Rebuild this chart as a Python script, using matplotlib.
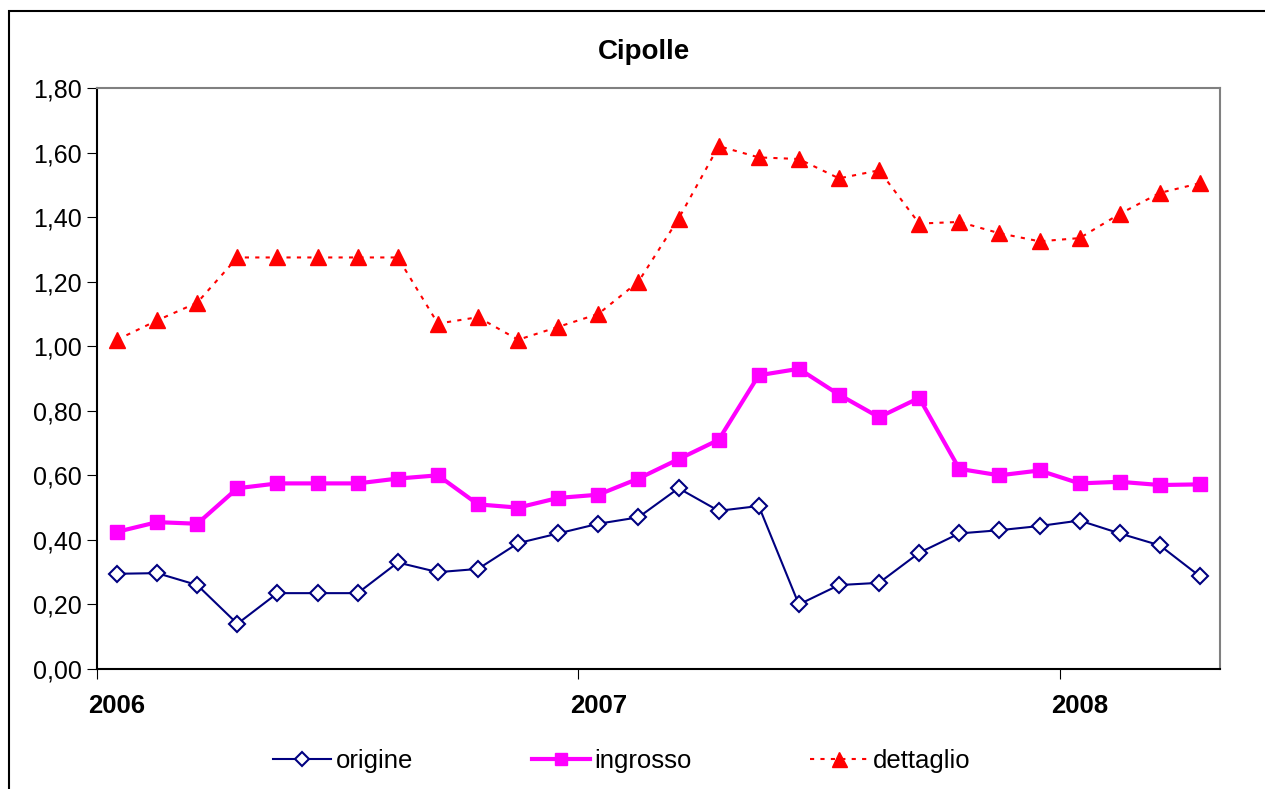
import numpy as np
import matplotlib.pyplot as plt
from matplotlib.patches import Rectangle
from matplotlib.ticker import FuncFormatter

plt.rcParams['font.family'] = ['Liberation Sans', 'DejaVu Sans']

# monthly prices, Jan 2006 - Apr 2008
years = ['2006', '2007', '2008']
origine = [0.295, 0.297, 0.26, 0.14, 0.235, 0.235, 0.235, 0.33, 0.30, 0.31,
           0.39, 0.42, 0.45, 0.47, 0.56, 0.49, 0.505, 0.20, 0.26, 0.267,
           0.36, 0.42, 0.43, 0.443, 0.46, 0.42, 0.383, 0.287]
ingrosso = [0.425, 0.455, 0.45, 0.56, 0.575, 0.575, 0.575, 0.59, 0.60, 0.51,
            0.50, 0.53, 0.54, 0.59, 0.65, 0.71, 0.91, 0.93, 0.85, 0.78,
            0.84, 0.62, 0.60, 0.615, 0.575, 0.58, 0.57, 0.572]
dettaglio = [1.02, 1.08, 1.135, 1.275, 1.275, 1.275, 1.275, 1.275, 1.07, 1.09,
             1.02, 1.06, 1.10, 1.20, 1.395, 1.62, 1.585, 1.58, 1.52, 1.545,
             1.38, 1.385, 1.35, 1.325, 1.335, 1.41, 1.475, 1.505]

x = np.arange(len(origine))

fig = plt.figure(figsize=(12.65, 7.89), dpi=100)
ax = fig.add_axes([97/1265, 1 - 669/789, (1220 - 97)/1265, (669 - 88)/789])

# outer chart border (cut at right/bottom like the original)
fig.patches.append(Rectangle((9/1265, -0.1), 1.2, 1.1 - 11/789, transform=fig.transFigure,
                             fill=False, edgecolor='black', linewidth=1.5))

ax.plot(x, origine, color='#000080', lw=1.5, marker='D', ms=8, mfc='white',
        mec='#000080', mew=1.5, label='origine')
ax.plot(x, ingrosso, color='#FF00FF', lw=3, marker='s', ms=10, mfc='#FF00FF',
        mec='#FF00FF', label='ingrosso')
ax.plot(x, dettaglio, color='#FF0000', lw=1.5, ls=(0, (2, 3)), marker='^', ms=12,
        mfc='#FF0000', mec='#FF0000', label='dettaglio')

ax.set_xlim(-0.5, len(x) - 0.5)
ax.set_ylim(0, 1.8)
ax.set_yticks(np.arange(0, 1.81, 0.2))
ax.yaxis.set_major_formatter(FuncFormatter(lambda v, p: f'{v:.2f}'.replace('.', ',')))
ax.tick_params(axis='y', labelsize=18, length=7, direction='out', pad=4)

# year ticks at boundaries, labels under January
ax.set_xticks([-0.5, 11.5, 23.5])
ax.set_xticklabels([])
ax.set_xticks([0, 12, 24], minor=True)
ax.set_xticklabels(years, minor=True, fontsize=18.5, fontweight='bold')
ax.tick_params(axis='x', which='major', length=7, direction='out')
ax.tick_params(axis='x', which='minor', length=0, pad=18)

ax.spines['top'].set_color('#808080')
ax.spines['right'].set_color('#808080')
for s in ax.spines.values():
    s.set_linewidth(1.5)

fig.text(644/1265, 1 - 52/789, 'Cipolle', ha='center', va='center',
         fontsize=20, fontweight='bold')

ax.legend(loc='center', bbox_to_anchor=(622/1265, 1 - 761/789), bbox_transform=fig.transFigure,
          ncol=3, frameon=False, fontsize=18.5, handlelength=2.25, handletextpad=0.2,
          columnspacing=4.6, markerscale=0.9)

fig.savefig('out.png', dpi=100)
